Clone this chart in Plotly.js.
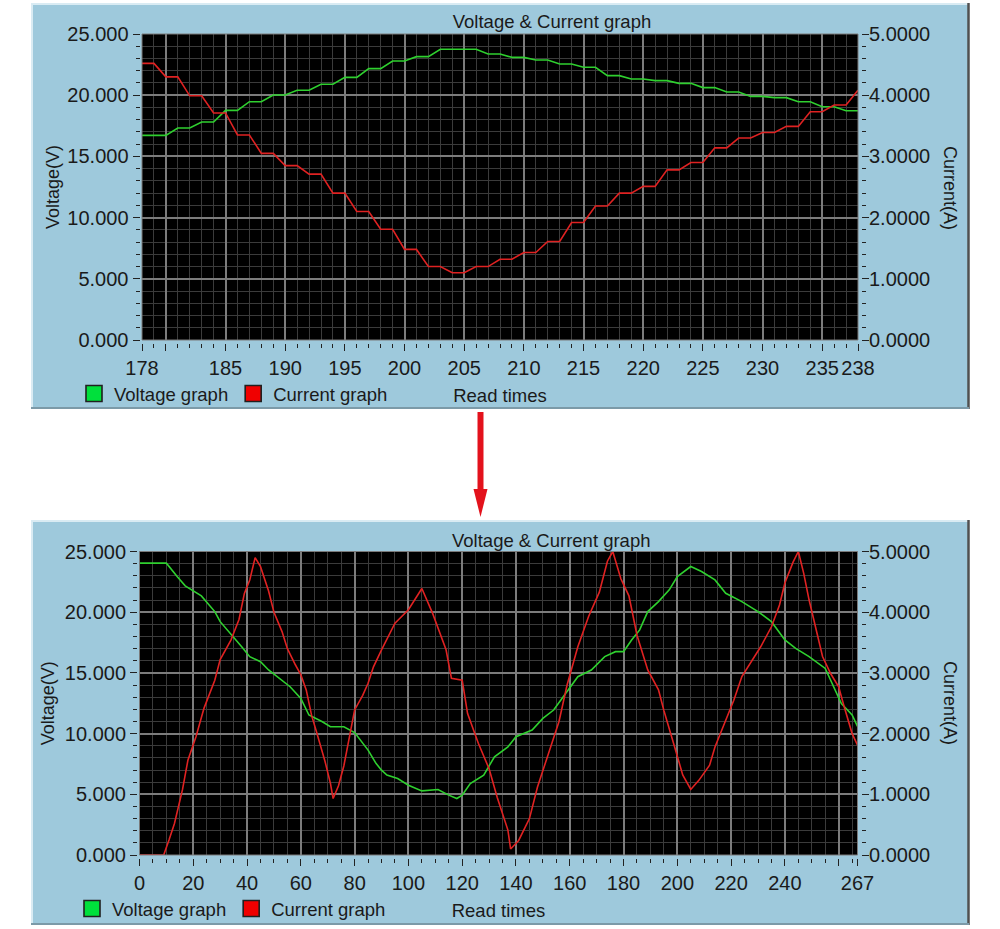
<!DOCTYPE html>
<html>
<head>
<meta charset="utf-8">
<script src="https://cdn.plot.ly/plotly-3.0.1.min.js"></script>
<style>
html,body{margin:0;padding:0;background:#ffffff;}
#chart{width:1000px;height:929px;}
</style>
</head>
<body>
<div id="chart"></div>
<script>
// ---------- Top chart (reads 178..238) ----------
const topReads = [178,179,180,181,182,183,184,185,186,187,188,189,190,191,192,193,194,195,196,197,198,199,200,201,202,203,204,205,206,207,208,209,210,211,212,213,214,215,216,217,218,219,220,221,222,223,224,225,226,227,228,229,230,231,232,233,234,235,236,237,238];
const topVoltage = [16.72,16.72,16.72,17.32,17.32,17.81,17.81,18.76,18.76,19.47,19.47,20.02,20.02,20.40,20.40,20.89,20.89,21.46,21.46,22.17,22.17,22.79,22.79,23.15,23.15,23.75,23.75,23.75,23.75,23.37,23.37,23.09,23.09,22.88,22.88,22.55,22.55,22.28,22.28,21.60,21.60,21.32,21.32,21.19,21.19,20.97,20.97,20.62,20.62,20.26,20.26,19.90,19.90,19.80,19.80,19.47,19.47,19.06,19.06,18.73,18.73];
const topCurrent = [4.52,4.52,4.30,4.30,3.99,3.99,3.71,3.71,3.35,3.35,3.05,3.05,2.85,2.85,2.71,2.71,2.40,2.40,2.10,2.10,1.81,1.81,1.48,1.48,1.20,1.20,1.10,1.10,1.20,1.20,1.32,1.32,1.43,1.43,1.61,1.61,1.92,1.92,2.19,2.19,2.40,2.40,2.51,2.51,2.78,2.78,2.90,2.90,3.14,3.14,3.30,3.30,3.39,3.39,3.49,3.49,3.73,3.73,3.84,3.84,4.08];
const topTickVals = [178,180,185,190,195,200,205,210,215,220,225,230,235,238];
const topTickText = ['178','','185','190','195','200','205','210','215','220','225','230','235','238'];

// ---------- Bottom chart (reads 0..267) ----------
const bottomVoltReads = [0,10,14,17,23,28,30,34,38,41,45,48,52,56,60,63,68,71,76,80,85,88,90,92,96,100,105,111,115,118,120,123,128,132,137,140,146,150,154,158,163,168,173,177,180,183,186,189,193,197,200,205,209,214,218,224,230,235,240,244,249,255,258,261,265,267];
const bottomVoltage = [24.04,24.04,22.94,22.17,21.34,20.05,19.22,18.21,17.16,16.34,15.92,15.24,14.55,13.86,12.90,11.53,10.97,10.56,10.56,10.09,8.64,7.53,6.99,6.58,6.30,5.75,5.28,5.39,4.93,4.65,4.93,5.88,6.58,8.09,8.91,9.74,10.29,11.25,11.94,13.18,14.69,15.24,16.34,16.75,16.75,17.71,18.54,20.05,20.87,21.84,22.94,23.76,23.35,22.66,21.56,20.87,20.05,19.22,17.71,17.02,16.34,15.37,13.86,12.48,11.53,10.60];
const bottomCurReads = [0,9,11,13,16,18,21,24,28,30,34,37,39,41,43,45,48,50,53,55,58,60,62,64,66,69,71,72,74,76,80,83,85,87,90,95,100,105,109,114,116,120,122,126,130,133,137,138,141,145,148,152,156,159,163,167,171,174,176,179,182,185,189,193,195,199,202,205,208,212,214,218,221,224,228,231,235,238,240,243,245,247,249,251,254,257,260,262,265,267];
const bottomCurrent = [0,0,0.25,0.52,1.08,1.56,1.95,2.42,2.88,3.22,3.54,3.88,4.31,4.53,4.90,4.75,4.35,4.00,3.68,3.40,3.13,2.97,2.72,2.30,2.00,1.54,1.18,0.93,1.14,1.47,2.39,2.63,2.83,3.10,3.38,3.82,4.04,4.39,3.98,3.38,2.91,2.88,2.33,1.84,1.42,0.95,0.41,0.10,0.24,0.60,1.12,1.67,2.20,2.80,3.43,3.93,4.33,4.84,5.00,4.55,4.27,3.62,3.05,2.72,2.38,1.78,1.32,1.08,1.23,1.48,1.78,2.22,2.55,2.94,3.22,3.43,3.76,4.12,4.48,4.82,5.00,4.64,4.20,3.82,3.27,2.99,2.77,2.45,2.00,1.81];
const bottomTickVals = [0,20,40,60,80,100,120,140,160,180,200,220,240,260,267];
const bottomTickText = ['0','20','40','60','80','100','120','140','160','180','200','220','240','','267'];

const seriesNames = ['Voltage graph','Current graph'];
const chartTitle = 'Voltage & Current graph';
const xTitle = 'Read times';
const yLeftTitle = 'Voltage(V)';
const yRightTitle = 'Current(A)';

// ---------- styling ----------
const W = 1000, H = 929;
const px = v => v / W;
const py = v => 1 - v / H;
const FONT = 'Liberation Sans, Arial, Helvetica, sans-serif';
const TXT = '#1a1a1a';
const PANEL = '#9ec9dc';
const GREEN_LINE = '#2fd02f', RED_LINE = '#e02222';
const GREEN_BOX = '#00e03c', RED_BOX = '#f00000';
const GRID_MINOR = '#3b3b3b', GRID_MAJOR = '#7c7c7c';
const tickFont = {family: FONT, size: 20, color: TXT};
const txtFont = {family: FONT, size: 18.5, color: TXT};
const axTitleFont = {family: FONT, size: 18, color: TXT};

const lineTrace = (x, y, name, color, xa, ya) => ({
  type: 'scatter', mode: 'lines', x: x, y: y, name: name,
  xaxis: xa, yaxis: ya, showlegend: false,
  line: {color: color, width: 1.6}, hoverinfo: 'skip'
});
const legendTrace = (name, color, xa, ya, lg) => ({
  type: 'scatter', mode: 'markers', x: [null], y: [null], name: name,
  xaxis: xa, yaxis: ya, legend: lg, showlegend: true,
  marker: {symbol: 'square', size: 16, color: color, line: {color: '#202020', width: 1.6}},
  hoverinfo: 'skip'
});

const data = [
  lineTrace(topReads, topVoltage, seriesNames[0], GREEN_LINE, 'x', 'y'),
  lineTrace(topReads, topCurrent, seriesNames[1], RED_LINE, 'x', 'y2'),
  lineTrace(bottomVoltReads, bottomVoltage, seriesNames[0], GREEN_LINE, 'x2', 'y3'),
  lineTrace(bottomCurReads, bottomCurrent, seriesNames[1], RED_LINE, 'x2', 'y4'),
  legendTrace(seriesNames[0], GREEN_BOX, 'x', 'y', 'legend'),
  legendTrace(seriesNames[1], RED_BOX, 'x', 'y', 'legend'),
  legendTrace(seriesNames[0], GREEN_BOX, 'x2', 'y3', 'legend2'),
  legendTrace(seriesNames[1], RED_BOX, 'x2', 'y4', 'legend2')
];

const xAxisBase = (domain, range, pos, tv, tt, minorDtick, minorTick0) => ({
  domain: domain, range: range, anchor: 'free', position: pos,
  tickmode: 'array', tickvals: tv, ticktext: tt, tickangle: 0,
  ticks: 'outside', ticklen: 7, tickwidth: 1, tickcolor: '#222',
  showgrid: true, gridcolor: GRID_MAJOR, gridwidth: 2,
  minor: {dtick: minorDtick, tick0: minorTick0, ticks: 'outside', ticklen: 4, tickwidth: 1, tickcolor: '#222', showgrid: true, gridcolor: GRID_MINOR, gridwidth: 1},
  showline: false, zeroline: false, tickfont: tickFont, fixedrange: true,
  title: {text: xTitle, font: txtFont, standoff: 11}
});
const yLeftBase = (domain, pos, standoff) => ({
  domain: domain, range: [0, 25], anchor: 'free', position: pos,
  tickmode: 'linear', tick0: 0, dtick: 5, tickformat: '.3f',
  ticks: 'outside', ticklen: 7, tickwidth: 1, tickcolor: '#222',
  showgrid: true, gridcolor: GRID_MAJOR, gridwidth: 2,
  minor: {dtick: 1, tick0: 0, ticks: 'outside', ticklen: 4, tickwidth: 1, tickcolor: '#222', showgrid: true, gridcolor: GRID_MINOR, gridwidth: 1},
  showline: false, zeroline: false, tickfont: tickFont, fixedrange: true,
  title: {text: yLeftTitle, font: axTitleFont, standoff: standoff}
});
const yRightBase = (overlay, pos) => ({
  overlaying: overlay, side: 'right', range: [0, 5], anchor: 'free', position: pos,
  tickmode: 'linear', tick0: 0, dtick: 1, tickformat: '.4f',
  ticks: 'outside', ticklen: 7, tickwidth: 1, tickcolor: '#222',
  ticklabelstandoff: -4,
  showgrid: false,
  minor: {dtick: 0.2, tick0: 0, ticks: 'outside', ticklen: 4, tickwidth: 1, tickcolor: '#222', showgrid: false},
  showline: false, zeroline: false, tickfont: tickFont, fixedrange: true
});

const panel = (top, bottom) => [
  {type: 'rect', xref: 'paper', yref: 'paper', x0: px(31), x1: px(969), y0: py(bottom), y1: py(top), fillcolor: PANEL, line: {width: 0}, layer: 'below'},
  {type: 'line', xref: 'paper', yref: 'paper', x0: px(31), x1: px(969), y0: py(top + 1), y1: py(top + 1), line: {color: '#d9ebf3', width: 2}, layer: 'below'},
  {type: 'line', xref: 'paper', yref: 'paper', x0: px(32), x1: px(32), y0: py(top), y1: py(bottom), line: {color: '#d9ebf3', width: 2}, layer: 'below'},
  {type: 'line', xref: 'paper', yref: 'paper', x0: px(968.5), x1: px(968.5), y0: py(top), y1: py(bottom), line: {color: '#505050', width: 2.5}, layer: 'below'},
  {type: 'line', xref: 'paper', yref: 'paper', x0: px(31), x1: px(969), y0: py(bottom - 1), y1: py(bottom - 1), line: {color: '#7c9aa8', width: 2}, layer: 'below'}
];
const plotBox = (xr, yr) => [
  {type: 'rect', xref: xr + ' domain', yref: yr + ' domain', x0: 0, x1: 1, y0: 0, y1: 1, fillcolor: '#000000', line: {width: 0}, layer: 'below'}
];
const plotBorder = (xr, yr) => ({type: 'rect', xref: xr + ' domain', yref: yr + ' domain', x0: 0, x1: 1, y0: 0, y1: 1, fillcolor: 'rgba(0,0,0,0)', line: {color: '#7a7a7a', width: 1}, layer: 'above'});

const ARROW = '#e3121c';
const shapes = [].concat(
  panel(3, 409), panel(520, 925),
  plotBox('x', 'y'), plotBox('x2', 'y3'),
  [plotBorder('x', 'y'), plotBorder('x2', 'y3'),
   {type: 'line', xref: 'paper', yref: 'paper', x0: px(480.5), x1: px(480.5), y0: py(412), y1: py(492), line: {color: ARROW, width: 6}, layer: 'above'},
   {type: 'path', xref: 'paper', yref: 'paper',
    path: 'M' + px(473.5) + ',' + py(489) + ' L' + px(487.5) + ',' + py(489) + ' L' + px(480.5) + ',' + py(517) + ' Z',
    fillcolor: ARROW, line: {width: 0}, layer: 'above'}]
);

const legendBase = (x, y) => ({orientation: 'h', x: x, xanchor: 'left', y: y, yanchor: 'middle', bgcolor: 'rgba(0,0,0,0)', borderwidth: 0, font: txtFont, itemclick: false, itemdoubleclick: false, traceorder: 'normal'});

const layout = {
  width: W, height: H,
  margin: {l: 0, r: 0, t: 0, b: 0, pad: 0},
  paper_bgcolor: '#ffffff', plot_bgcolor: '#000000',
  hovermode: false, showlegend: true,
  font: {family: FONT, color: TXT, size: 18},
  title: {text: chartTitle, xref: 'container', yref: 'container', x: px(552), xanchor: 'center', y: py(22), yanchor: 'middle', font: txtFont},
  xaxis: xAxisBase([0.142, 0.858], [178, 238], py(342.5), topTickVals, topTickText, 1, 178),
  yaxis: yLeftBase([py(340), py(34)], px(139.5), 2),
  yaxis2: yRightBase('y', px(861)),
  xaxis2: xAxisBase([0.1395, 0.8575], [0, 267], py(857.5), bottomTickVals, bottomTickText, 5, 0),
  yaxis3: yLeftBase([py(855), py(551.5)], px(137), 4),
  yaxis4: yRightBase('y3', px(861)),
  legend: legendBase(px(74), py(394)),
  legend2: legendBase(px(72), py(909)),
  shapes: shapes,
  annotations: [
    {text: chartTitle, xref: 'paper', yref: 'paper', x: px(551), y: py(540), xanchor: 'center', yanchor: 'middle', showarrow: false, font: txtFont},
    {text: yRightTitle, xref: 'paper', yref: 'paper', x: px(950), y: py(188), xanchor: 'center', yanchor: 'middle', textangle: 90, showarrow: false, font: axTitleFont},
    {text: yRightTitle, xref: 'paper', yref: 'paper', x: px(950), y: py(703), xanchor: 'center', yanchor: 'middle', textangle: 90, showarrow: false, font: axTitleFont}
  ]
};

Plotly.newPlot('chart', data, layout, {displayModeBar: false, staticPlot: true, responsive: false});
</script>
</body>
</html>
